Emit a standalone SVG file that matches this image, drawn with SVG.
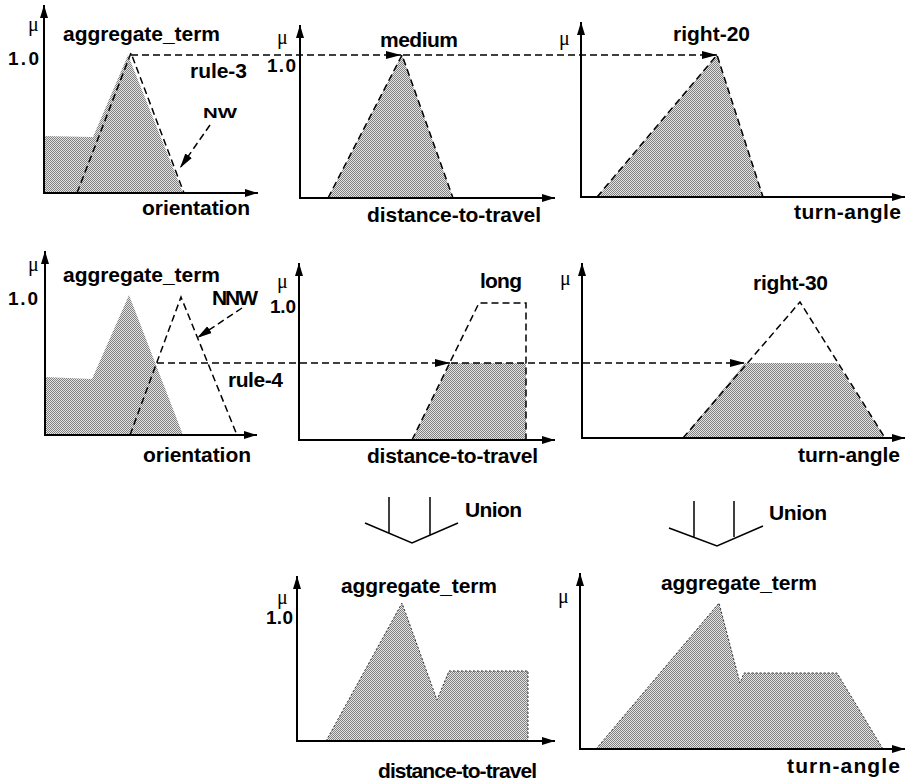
<svg xmlns="http://www.w3.org/2000/svg" width="907" height="784" viewBox="0 0 907 784">
<style>
.lbl{font-family:"Liberation Sans",Arial,sans-serif;font-weight:bold;font-size:21px;fill:#000}
.one{font-family:"Liberation Sans",Arial,sans-serif;font-weight:bold;font-size:19px;fill:#000}
.mu{font-family:"Liberation Serif","Times New Roman",serif;font-size:20px;fill:#000}
.axis{fill:none;stroke:#000;stroke-width:2;marker-end:url(#ah)}
.fill{fill:url(#dots);stroke:none}
.dash{fill:none;stroke:#000;stroke-width:1.5;stroke-dasharray:7 4}
.dot{fill:none;stroke:#333;stroke-width:1;stroke-dasharray:2 2}
.darr{fill:none;stroke:#000;stroke-width:1.5;stroke-dasharray:7 4;marker-end:url(#dh)}
.solid{fill:none;stroke:#000;stroke-width:1.5}
</style>
<defs>
<pattern id="dots" width="2" height="2" patternUnits="userSpaceOnUse">
<rect width="2" height="2" fill="#e4e4e4"/>
<rect x="0" y="0" width="1" height="1" fill="#808080"/>
<rect x="1" y="1" width="1" height="1" fill="#808080"/>
</pattern>
<marker id="ah" markerUnits="userSpaceOnUse" markerWidth="14" markerHeight="10" refX="13" refY="5" orient="auto">
<path d="M0,1 L13,5 L0,9 z" fill="#000"/>
</marker>
<marker id="dh" markerUnits="userSpaceOnUse" markerWidth="16" markerHeight="10" refX="15" refY="5" orient="auto">
<path d="M0,1 L15,5 L0,9 z" fill="#000"/>
</marker>
</defs>
<rect width="907" height="784" fill="#fff"/>

<g id="panel-orientation-1">
<polygon class="fill" points="44,193 44,136 93,137 128,55 183,193"/>
<path class="dash" d="M77,193 L131,53 L184,193"/>
<path class="axis" d="M44,194 L44,5"/>
<path class="axis" d="M44,193 L258,193"/>
<text class="mu" x="28" y="31">μ</text>
<text class="lbl" x="63" y="41" textLength="157">aggregate_term</text>
<text class="one" x="8" y="65" textLength="31">1.0</text>
<text class="lbl" x="190" y="78" textLength="57">rule-3</text>
<text class="lbl" x="203" y="118" textLength="34" lengthAdjust="spacingAndGlyphs" style="font-size:14px">NW</text>
<text class="lbl" x="142" y="215" textLength="108">orientation</text>
</g>

<g id="panel-distance-1">
<polygon class="fill" points="328,198 402,55 453,198"/>
<path class="dash" d="M328,198 L402,55 L453,198"/>
<path class="axis" d="M300,199 L300,25"/>
<path class="axis" d="M300,198 L555,198"/>
<text class="mu" x="277" y="44">μ</text>
<text class="one" x="267" y="72" textLength="29">1.0</text>
<text class="lbl" x="380" y="47" textLength="78">medium</text>
<text class="lbl" x="367" y="222" textLength="174">distance-to-travel</text>
</g>

<g id="panel-turn-1">
<polygon class="fill" points="597,197 717,55 763,197"/>
<path class="dash" d="M597,197 L717,55 L763,197"/>
<path class="axis" d="M581,198 L581,22"/>
<path class="axis" d="M581,197 L905,197"/>
<text class="mu" x="559" y="45">μ</text>
<text class="lbl" x="673" y="41" textLength="77">right-20</text>
<text class="lbl" x="794" y="219" textLength="107">turn-angle</text>
</g>

<g id="panel-orientation-2">
<polygon class="fill" points="45,435 45,377 92,379 129,295 183,435"/>
<path class="dash" d="M130,435 L181,297 L237,435"/>
<path class="axis" d="M45,436 L45,251"/>
<path class="axis" d="M45,435 L257,435"/>
<text class="mu" x="28" y="271">μ</text>
<text class="lbl" x="63" y="282" textLength="157">aggregate_term</text>
<text class="one" x="8" y="305" textLength="30">1.0</text>
<text class="lbl" x="212" y="305" textLength="46">NNW</text>
<text class="lbl" x="228" y="387" textLength="55">rule-4</text>
<text class="lbl" x="143" y="462" textLength="108">orientation</text>
</g>

<g id="panel-distance-2">
<polygon class="fill" points="412,440 450,363 526,363 526,440"/>
<path class="dash" d="M412,440 L479,303 L526,303 L526,440"/>
<path class="axis" d="M299,441 L299,263"/>
<path class="axis" d="M299,440 L555,440"/>
<text class="mu" x="277" y="288">μ</text>
<text class="one" x="270" y="313" textLength="26">1.0</text>
<text class="lbl" x="480" y="288" textLength="42">long</text>
<text class="lbl" x="367" y="463" textLength="171">distance-to-travel</text>
</g>

<g id="panel-turn-2">
<polygon class="fill" points="683,438 745,363 837,363 885,438"/>
<path class="dash" d="M683,438 L800,302 L885,438"/>
<path class="axis" d="M582,439 L582,263"/>
<path class="axis" d="M582,438 L905,438"/>
<text class="mu" x="560" y="285">μ</text>
<text class="lbl" x="753" y="290" textLength="75">right-30</text>
<text class="lbl" x="798" y="462" textLength="102">turn-angle</text>
</g>

<g id="panel-distance-union">
<polygon class="fill" points="326,741 402,603 437,700 449,671 528,671 528,741"/>
<path class="dot" d="M326,741 L402,603 L437,700 L449,671 L528,671 L528,741"/>
<path class="axis" d="M297,742 L297,576"/>
<path class="axis" d="M297,741 L555,741"/>
<text class="mu" x="277" y="604">μ</text>
<text class="one" x="266" y="624" textLength="27">1.0</text>
<text class="lbl" x="341" y="593" textLength="156">aggregate_term</text>
<text class="lbl" x="378" y="778" textLength="159">distance-to-travel</text>
</g>

<g id="panel-turn-union">
<polygon class="fill" points="596,749 719,603 740,683 744,673 837,673 883,749"/>
<path class="dot" d="M596,749 L719,603 L740,683 L744,673 L837,673 L883,749"/>
<path class="axis" d="M580,750 L580,573"/>
<path class="axis" d="M580,749 L905,749"/>
<text class="mu" x="558" y="603">μ</text>
<text class="lbl" x="661" y="590" textLength="156">aggregate_term</text>
<text class="lbl" x="787" y="773" textLength="113">turn-angle</text>
</g>

<g id="union-distance">
<path class="solid" d="M389,497 L389,533 M430,497 L430,535 M365,523 L412,543 L458,523"/>
<text class="lbl" x="465" y="517" textLength="57">Union</text>
</g>

<g id="union-turn">
<path class="solid" d="M694,501 L694,538 M734,501 L734,537 M669,528 L717,546 L763,526"/>
<text class="lbl" x="769" y="520" textLength="58">Union</text>
</g>

<g id="connectors">
<path class="darr" d="M131,55 L401,55"/>
<path class="darr" d="M403,55 L717,55"/>
<path class="darr" d="M210,125 L180,168"/>
<path class="darr" d="M157,363 L450,363"/>
<path class="darr" d="M451,363 L745,363"/>
<path class="darr" d="M242,308 L197,338"/>
</g>
</svg>
